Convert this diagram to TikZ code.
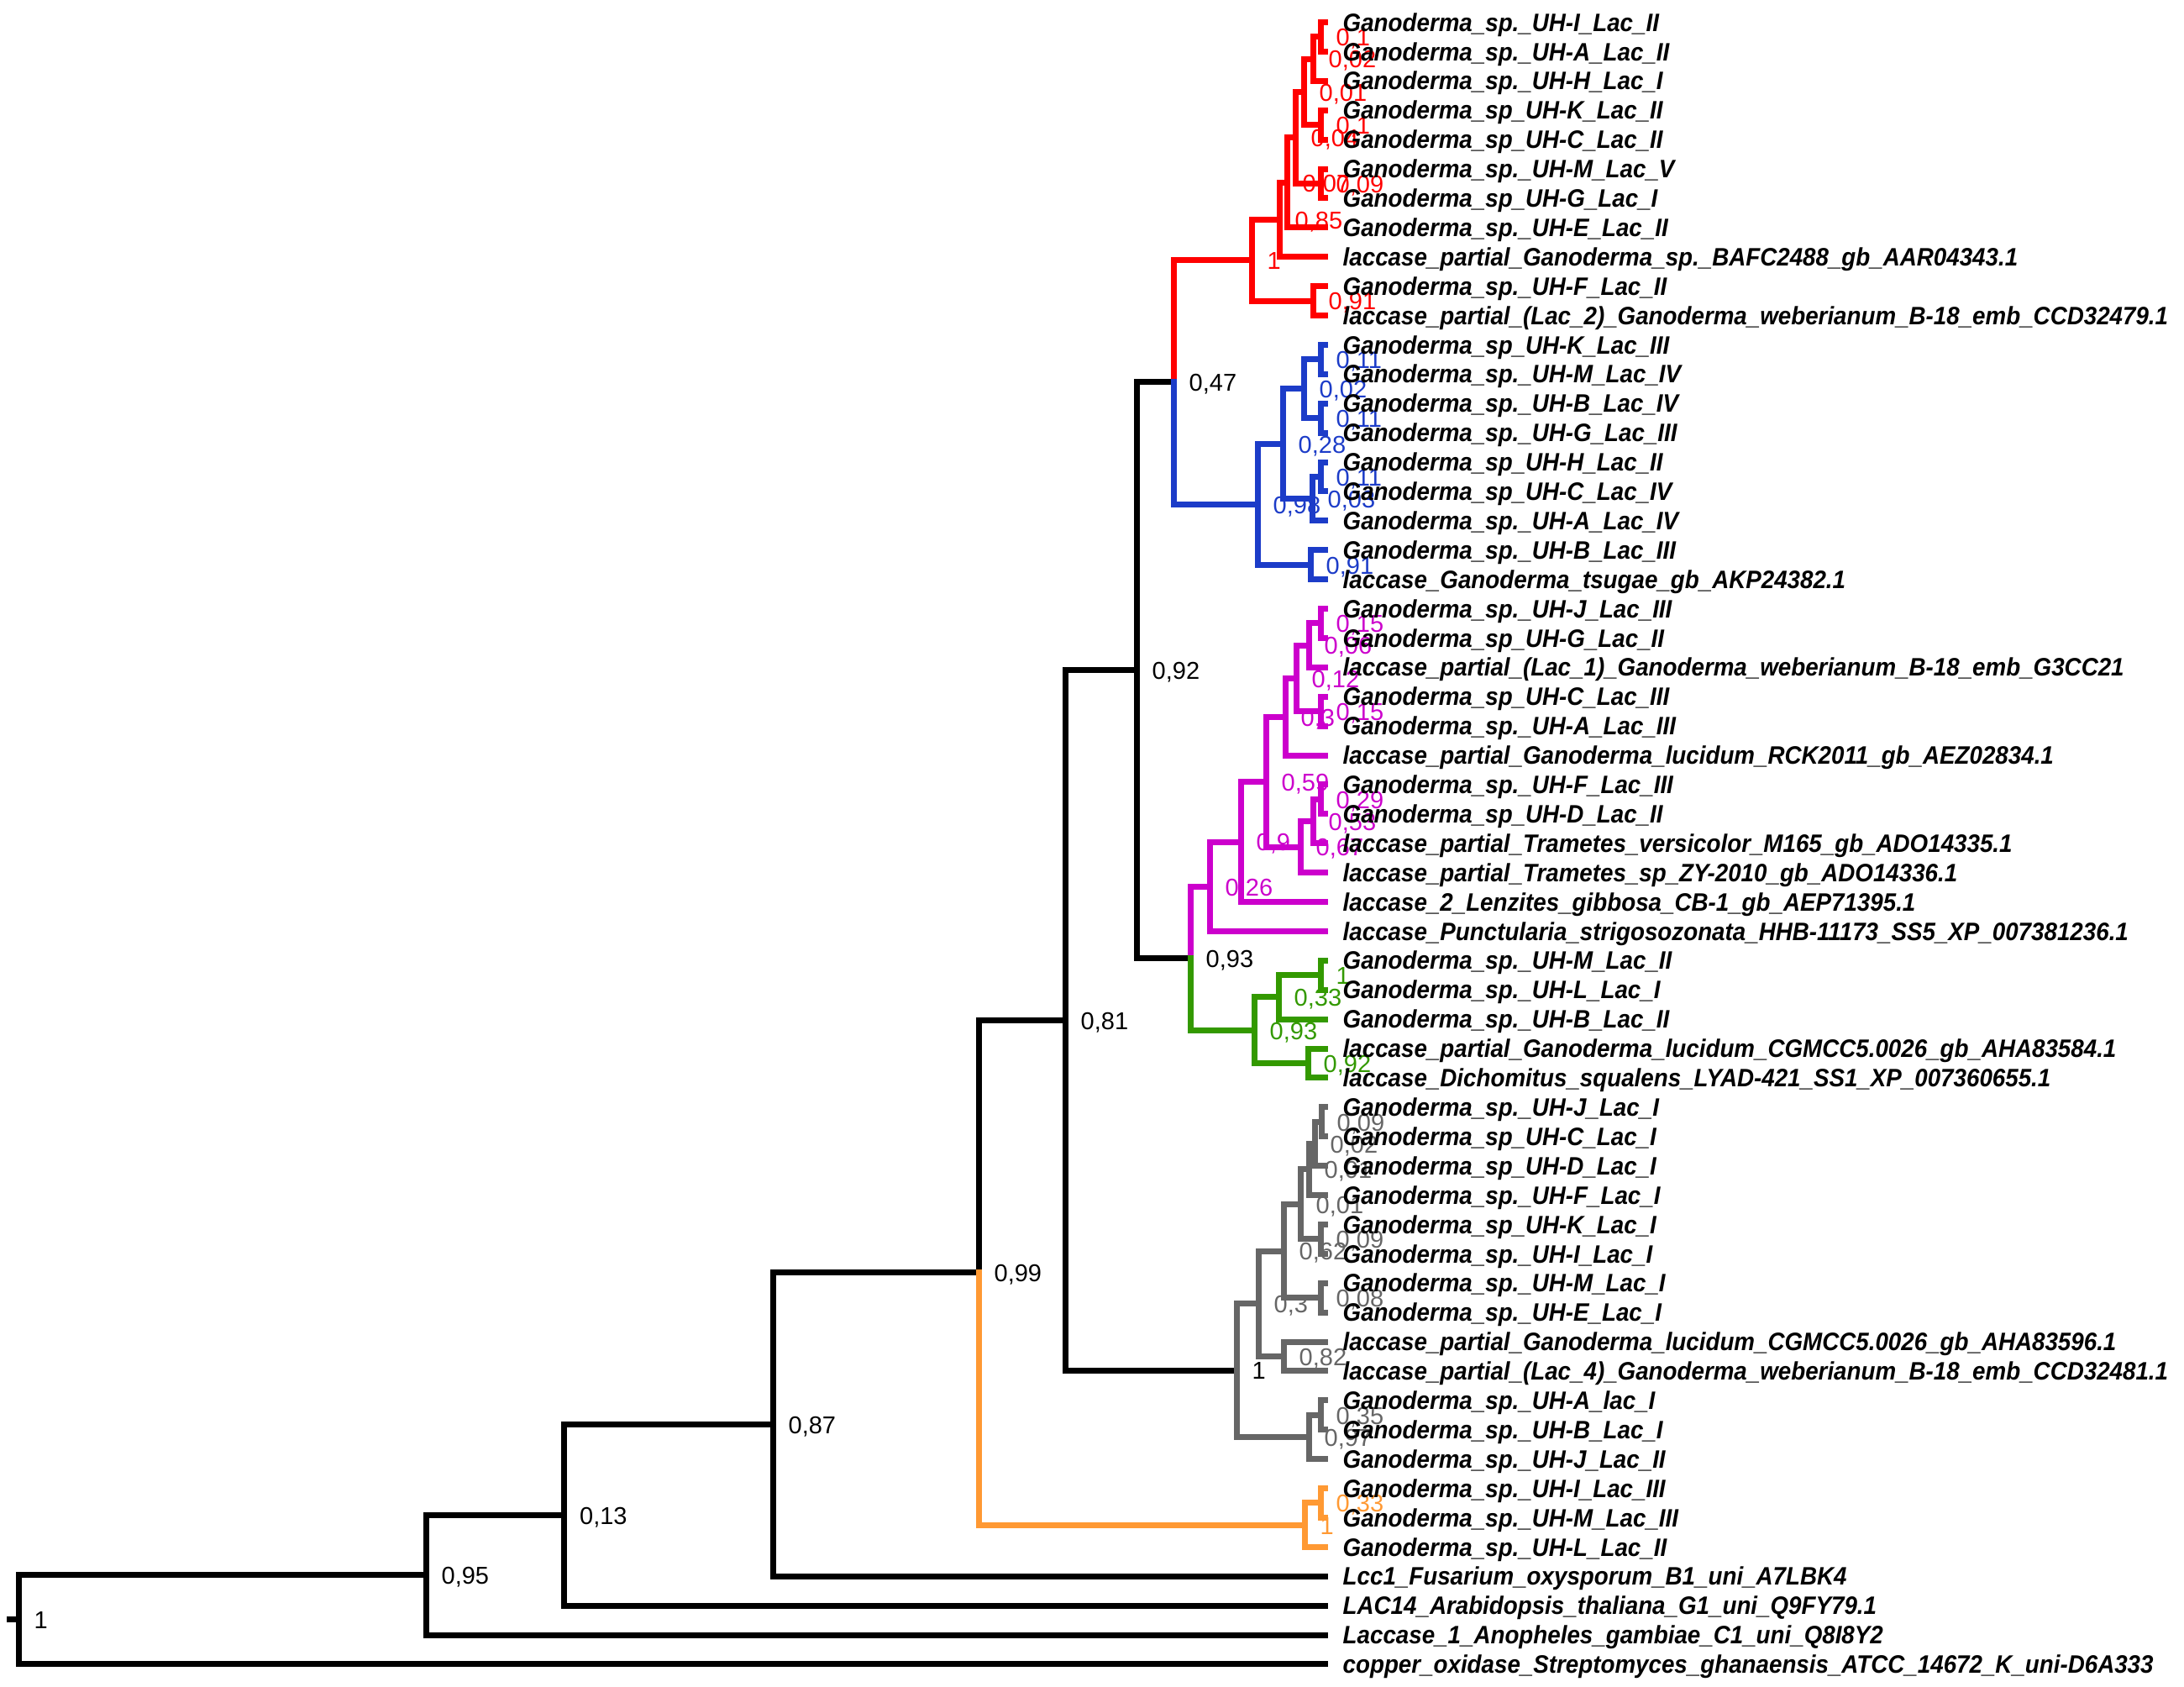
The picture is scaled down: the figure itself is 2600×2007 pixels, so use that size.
\documentclass[tikz,border=0pt]{standalone}
\usepackage{fontspec}
\setmainfont{Liberation Sans}
\newfontfamily\leaffamily{Liberation Sans}[FakeStretch=0.925]
\newfontfamily\svfamily{Liberation Sans}
\definecolor{cred}{RGB}{255,0,0}
\definecolor{cblue}{RGB}{28,60,200}
\definecolor{cmag}{RGB}{204,0,204}
\definecolor{cgreen}{RGB}{51,153,0}
\definecolor{cgray}{RGB}{102,102,102}
\definecolor{corange}{RGB}{255,153,51}
\begin{document}
\begin{tikzpicture}[x=0.3pt,y=-0.3pt,
  edge/.style={line width=2.1pt, line cap=rect, line join=miter},
  sv/.style={anchor=base west, inner sep=0pt, xshift=5.4pt, yshift=-3.25pt, font=\svfamily\fontsize{8.7}{8.7}\selectfont},
  leaf/.style={anchor=base west, inner sep=0pt, xshift=6.3pt, yshift=-3.2pt, font=\leaffamily\bfseries\itshape\fontsize{9.0}{9.0}\selectfont}]
\useasboundingbox[fill=white] (0,0) rectangle (2600,2007);
% leaf tips
\foreach \i in {1,...,57} {\coordinate (l\i) at (1577,{26.5+(\i-1)*34.9});}
% backbone
\coordinate (stub) at (11,1927.78);
\coordinate (root) at (22,1927.78);
\coordinate (A) at (507,1874.65);
\coordinate (B) at (671.5,1803.3);
\coordinate (C) at (920,1695.5);
\coordinate (D) at (1165,1514.8);
\coordinate (E) at (1268,1214.47);
\coordinate (F) at (1353,797.85);
\coordinate (G) at (1397,454.98);
\coordinate (H) at (1417,1140.71);
% red
\coordinate (R0) at (1490,309.79);
\coordinate (R1) at (1523,261.53);
\coordinate (R3) at (1532,217.36);
\coordinate (R4) at (1542,163.92);
\coordinate (R5) at (1552,109.39);
\coordinate (R7) at (1563,70.13);
\coordinate (R9) at (1572,43.95);
\coordinate (R8) at (1572,148.65);
\coordinate (R6) at (1572,218.45);
\coordinate (R2) at (1563,358.05);
% blue
\coordinate (B0) at (1497,600.17);
\coordinate (B1) at (1527,528.19);
\coordinate (B3) at (1552,462.75);
\coordinate (B5) at (1572,427.85);
\coordinate (B6) at (1572,497.65);
\coordinate (B4) at (1562,593.63);
\coordinate (B7) at (1572,567.45);
\coordinate (B2) at (1560,672.15);
% magenta
\coordinate (M0) at (1440,1055.23);
\coordinate (M1) at (1477,1002.06);
\coordinate (M2) at (1507,930.63);
\coordinate (M3) at (1530,853.19);
\coordinate (M5) at (1543,807.39);
\coordinate (M6) at (1558,768.13);
\coordinate (M8) at (1572,741.95);
\coordinate (M7) at (1572,846.65);
\coordinate (M4) at (1548,1008.06);
\coordinate (M9) at (1563,977.53);
\coordinate (M10) at (1572,951.35);
% green
\coordinate (Gr0) at (1493,1226.19);
\coordinate (Gr1) at (1522,1186.93);
\coordinate (Gr3) at (1572,1160.75);
\coordinate (Gr2) at (1557,1265.45);
% gray
\coordinate (Y0) at (1472,1631.09);
\coordinate (Y1) at (1498,1551.74);
\coordinate (Y4) at (1528,1489.03);
\coordinate (Y6) at (1548,1433.41);
\coordinate (Y8) at (1558,1391.96);
\coordinate (Y10) at (1565,1361.43);
\coordinate (Y11) at (1573,1335.25);
\coordinate (Y9) at (1572,1474.85);
\coordinate (Y7) at (1572,1544.65);
\coordinate (Y5) at (1528,1614.45);
\coordinate (Y2) at (1558,1710.43);
\coordinate (Y3) at (1572,1684.25);
% orange
\coordinate (O1) at (1553,1815.13);
\coordinate (O2) at (1572,1788.95);

% support values (drawn first, under the lines)
\foreach \n/\v in {root/1, A/{0,95}, B/{0,13}, C/{0,87}, D/{0,99}, E/{0,81}, F/{0,92}, G/{0,47}, H/{0,93}, Y0/1}
  {\node[sv] (s\n) at (\n) {\v};}
\foreach \n/\v in {R0/1, R1/{0,85}, R3/{0,07}, R4/{0,04}, R5/{0,01}, R7/{0,02}, R9/{0,1}, R8/{0,1}, R6/{0,09}, R2/{0,91}}
  {\node[sv, text=cred] (s\n) at (\n) {\v};}
\foreach \n/\v in {B0/{0,98}, B1/{0,28}, B3/{0,02}, B5/{0,11}, B6/{0,11}, B4/{0,03}, B7/{0,11}, B2/{0,91}}
  {\node[sv, text=cblue] (s\n) at (\n) {\v};}
\foreach \n/\v in {M0/{0,26}, M1/{0,9}, M2/{0,59}, M3/{0,3}, M5/{0,12}, M6/{0,06}, M8/{0,15}, M7/{0,15}, M4/{0,67}, M9/{0,53}, M10/{0,29}}
  {\node[sv, text=cmag] (s\n) at (\n) {\v};}
\foreach \n/\v in {Gr0/{0,93}, Gr1/{0,33}, Gr3/1, Gr2/{0,92}}
  {\node[sv, text=cgreen] (s\n) at (\n) {\v};}
\foreach \n/\v in {Y1/{0,3}, Y4/{0,62}, Y6/{0,01}, Y8/{0,01}, Y10/{0,02}, Y11/{0,09}, Y9/{0,09}, Y7/{0,08}, Y5/{0,82}, Y2/{0,97}, Y3/{0,35}}
  {\node[sv, text=cgray] (s\n) at (\n) {\v};}
\foreach \n/\v in {O1/1, O2/{0,33}}
  {\node[sv, text=corange] (s\n) at (\n) {\v};}

% edges
\draw[edge] (stub) -- (root);
\foreach \p/\c in {root/A, root/l57, A/B, A/l56, B/C, B/l55, C/D, C/l54, D/E, E/F, E/Y0, F/G, F/H}
  {\draw[edge] (\p) |- (\c);}
\foreach \p/\c in {G/R0, R0/R1, R0/R2, R1/R3, R1/l9, R3/R4, R3/l8, R4/R5, R4/R6, R5/R7, R5/R8, R7/R9, R7/l3, R9/l1, R9/l2, R8/l4, R8/l5, R6/l6, R6/l7, R2/l10, R2/l11}
  {\draw[edge, cred] (\p) |- (\c);}
\foreach \p/\c in {G/B0, B0/B1, B0/B2, B1/B3, B1/B4, B3/B5, B3/B6, B5/l12, B5/l13, B6/l14, B6/l15, B4/B7, B4/l18, B7/l16, B7/l17, B2/l19, B2/l20}
  {\draw[edge, cblue] (\p) |- (\c);}
\foreach \p/\c in {H/M0, M0/M1, M0/l32, M1/M2, M1/l31, M2/M3, M2/M4, M3/M5, M3/l26, M5/M6, M5/M7, M6/M8, M6/l23, M8/l21, M8/l22, M7/l24, M7/l25, M4/M9, M4/l30, M9/M10, M9/l29, M10/l27, M10/l28}
  {\draw[edge, cmag] (\p) |- (\c);}
\foreach \p/\c in {H/Gr0, Gr0/Gr1, Gr0/Gr2, Gr1/Gr3, Gr1/l35, Gr3/l33, Gr3/l34, Gr2/l36, Gr2/l37}
  {\draw[edge, cgreen] (\p) |- (\c);}
\foreach \p/\c in {Y0/Y1, Y0/Y2, Y1/Y4, Y1/Y5, Y4/Y6, Y4/Y7, Y6/Y8, Y6/Y9, Y8/Y10, Y8/l41, Y10/Y11, Y10/l40, Y11/l38, Y11/l39, Y9/l42, Y9/l43, Y7/l44, Y7/l45, Y5/l46, Y5/l47, Y2/Y3, Y2/l50, Y3/l48, Y3/l49}
  {\draw[edge, cgray] (\p) |- (\c);}
\foreach \p/\c in {D/O1, O1/O2, O1/l53, O2/l51, O2/l52}
  {\draw[edge, corange] (\p) |- (\c);}

% leaf labels
\foreach \i/\t in {
1/{Ganoderma\_sp.\_UH-I\_Lac\_II},
2/{Ganoderma\_sp.\_UH-A\_Lac\_II},
3/{Ganoderma\_sp.\_UH-H\_Lac\_I},
4/{Ganoderma\_sp\_UH-K\_Lac\_II},
5/{Ganoderma\_sp\_UH-C\_Lac\_II},
6/{Ganoderma\_sp.\_UH-M\_Lac\_V},
7/{Ganoderma\_sp\_UH-G\_Lac\_I},
8/{Ganoderma\_sp.\_UH-E\_Lac\_II},
9/{laccase\_partial\_Ganoderma\_sp.\_BAFC2488\_gb\_AAR04343.1},
10/{Ganoderma\_sp.\_UH-F\_Lac\_II},
11/{laccase\_partial\_(Lac\_2)\_Ganoderma\_weberianum\_B-18\_emb\_CCD32479.1},
12/{Ganoderma\_sp\_UH-K\_Lac\_III},
13/{Ganoderma\_sp.\_UH-M\_Lac\_IV},
14/{Ganoderma\_sp.\_UH-B\_Lac\_IV},
15/{Ganoderma\_sp.\_UH-G\_Lac\_III},
16/{Ganoderma\_sp\_UH-H\_Lac\_II},
17/{Ganoderma\_sp\_UH-C\_Lac\_IV},
18/{Ganoderma\_sp.\_UH-A\_Lac\_IV},
19/{Ganoderma\_sp.\_UH-B\_Lac\_III},
20/{laccase\_Ganoderma\_tsugae\_gb\_AKP24382.1},
21/{Ganoderma\_sp.\_UH-J\_Lac\_III},
22/{Ganoderma\_sp\_UH-G\_Lac\_II},
23/{laccase\_partial\_(Lac\_1)\_Ganoderma\_weberianum\_B-18\_emb\_G3CC21},
24/{Ganoderma\_sp\_UH-C\_Lac\_III},
25/{Ganoderma\_sp.\_UH-A\_Lac\_III},
26/{laccase\_partial\_Ganoderma\_lucidum\_RCK2011\_gb\_AEZ02834.1},
27/{Ganoderma\_sp.\_UH-F\_Lac\_III},
28/{Ganoderma\_sp\_UH-D\_Lac\_II},
29/{laccase\_partial\_Trametes\_versicolor\_M165\_gb\_ADO14335.1},
30/{laccase\_partial\_Trametes\_sp\_ZY-2010\_gb\_ADO14336.1},
31/{laccase\_2\_Lenzites\_gibbosa\_CB-1\_gb\_AEP71395.1},
32/{laccase\_Punctularia\_strigosozonata\_HHB-11173\_SS5\_XP\_007381236.1},
33/{Ganoderma\_sp.\_UH-M\_Lac\_II},
34/{Ganoderma\_sp.\_UH-L\_Lac\_I},
35/{Ganoderma\_sp.\_UH-B\_Lac\_II},
36/{laccase\_partial\_Ganoderma\_lucidum\_CGMCC5.0026\_gb\_AHA83584.1},
37/{laccase\_Dichomitus\_squalens\_LYAD-421\_SS1\_XP\_007360655.1},
38/{Ganoderma\_sp.\_UH-J\_Lac\_I},
39/{Ganoderma\_sp\_UH-C\_Lac\_I},
40/{Ganoderma\_sp\_UH-D\_Lac\_I},
41/{Ganoderma\_sp.\_UH-F\_Lac\_I},
42/{Ganoderma\_sp\_UH-K\_Lac\_I},
43/{Ganoderma\_sp.\_UH-I\_Lac\_I},
44/{Ganoderma\_sp.\_UH-M\_Lac\_I},
45/{Ganoderma\_sp.\_UH-E\_Lac\_I},
46/{laccase\_partial\_Ganoderma\_lucidum\_CGMCC5.0026\_gb\_AHA83596.1},
47/{laccase\_partial\_(Lac\_4)\_Ganoderma\_weberianum\_B-18\_emb\_CCD32481.1},
48/{Ganoderma\_sp.\_UH-A\_lac\_I},
49/{Ganoderma\_sp.\_UH-B\_Lac\_I},
50/{Ganoderma\_sp.\_UH-J\_Lac\_II},
51/{Ganoderma\_sp.\_UH-I\_Lac\_III},
52/{Ganoderma\_sp.\_UH-M\_Lac\_III},
53/{Ganoderma\_sp.\_UH-L\_Lac\_II},
54/{Lcc1\_Fusarium\_oxysporum\_B1\_uni\_A7LBK4},
55/{LAC14\_Arabidopsis\_thaliana\_G1\_uni\_Q9FY79.1},
56/{Laccase\_1\_Anopheles\_gambiae\_C1\_uni\_Q8I8Y2},
57/{copper\_oxidase\_Streptomyces\_ghanaensis\_ATCC\_14672\_K\_uni-D6A333}}
  {\node[leaf] (t\i) at (l\i) {\t};}
\end{tikzpicture}
\end{document}
